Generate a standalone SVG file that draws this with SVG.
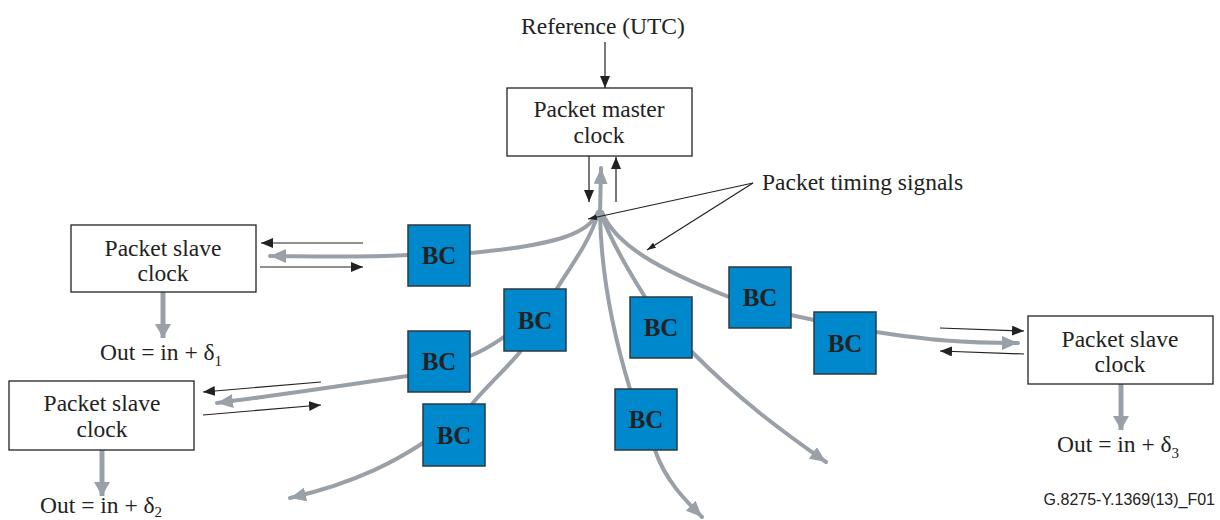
<svg xmlns="http://www.w3.org/2000/svg" width="1220" height="520" viewBox="0 0 1220 520">
<style>
.t{font-family:"Liberation Serif","Times New Roman",serif;font-size:23.5px;fill:#222;}
.box{fill:#fff;stroke:#222;stroke-width:1.3;}
.bc{fill:#0088cc;stroke:#2b3a42;stroke-width:1.5;}
.bct{font-family:"Liberation Serif","Times New Roman",serif;font-size:25px;font-weight:bold;fill:#222;text-anchor:middle;}
.g{fill:none;stroke:#9aa0a8;stroke-width:4;stroke-linecap:round;}
.gd{fill:none;stroke:#9aa0a8;stroke-width:5;}
.k{fill:none;stroke:#222;stroke-width:1.2;}
.k2{fill:none;stroke:#555;stroke-width:1.6;}
</style>
<defs>
<marker id="ga" markerUnits="userSpaceOnUse" markerWidth="17" markerHeight="14" refX="16" refY="7" orient="auto"><path d="M0,0 L16,7 L0,14 Z" fill="#9aa0a8"/></marker>
<marker id="gb" markerUnits="userSpaceOnUse" markerWidth="15" markerHeight="16" refX="14" refY="8" orient="auto"><path d="M0,0 L14,8 L0,16 Z" fill="#9aa0a8"/></marker>
<marker id="ka" markerUnits="userSpaceOnUse" markerWidth="13" markerHeight="10" refX="12" refY="5" orient="auto"><path d="M0,0 L12,5 L0,10 Z" fill="#222"/></marker>
<marker id="kb" markerUnits="userSpaceOnUse" markerWidth="10" markerHeight="6" refX="9" refY="3" orient="auto"><path d="M0,0 L9,3 L0,6 Z" fill="#222"/></marker>
</defs>

<g id="connectors">
<path class="g" d="M600,215 L601,168" marker-end="url(#ga)"/>
<path class="g" d="M598,212 C590,232 560,245 470,253"/>
<path class="g" d="M598,214 C590,240 575,260 556,290"/>
<path class="g" d="M600,214 C601,270 612,330 630,389"/>
<path class="g" d="M601,213 C610,240 628,270 645,297"/>
<path class="g" d="M602,212 C615,245 660,270 729,297"/>
<path class="g" d="M408,255 C350,258 300,256 270,256" marker-end="url(#ga)"/>
<path class="g" d="M408,376 C340,386 280,395 217,403" marker-end="url(#ga)"/>
<path class="g" d="M470,356 C485,350 495,343 504,337"/>
<path class="g" d="M520,352 C505,370 488,385 472,404"/>
<path class="g" d="M423,443 C400,458 360,482 290,498" marker-end="url(#ga)"/>
<path class="g" d="M655,450 C665,480 685,500 702,517" marker-end="url(#ga)"/>
<path class="g" d="M692,352 C740,400 780,430 826,462" marker-end="url(#ga)"/>
<path class="g" d="M791,315 L814,320"/>
<path class="g" d="M876,332 C930,340 960,343 1018,343" marker-end="url(#ga)"/>
<path class="gd" d="M163,292 L163,338" marker-end="url(#gb)"/>
<path class="gd" d="M102,450 L102,496" marker-end="url(#gb)"/>
<path class="gd" d="M1121,384 L1121,430" marker-end="url(#gb)"/>
<path class="k" d="M605,42 L605,88" marker-end="url(#ka)"/>
<path class="k2" d="M589,156 L589,202" marker-end="url(#ka)"/>
<path class="k2" d="M616,202 L616,157" marker-end="url(#ka)"/>
<path class="k" d="M363,243 L261,243" marker-end="url(#ka)"/>
<path class="k" d="M260,267 L363,267" marker-end="url(#ka)"/>
<path class="k" d="M321,382 L203,392" marker-end="url(#ka)"/>
<path class="k" d="M203,415 L321,405" marker-end="url(#ka)"/>
<path class="k" d="M940,328 L1024,331" marker-end="url(#ka)"/>
<path class="k" d="M1024,354 L940,351" marker-end="url(#ka)"/>
<path class="k" d="M753,183 L588,219" marker-end="url(#kb)"/>
<path class="k" d="M753,183 L647,250" marker-end="url(#kb)"/>
</g>

<g id="reference"><text class="t" x="603" y="34" text-anchor="middle">Reference (UTC)</text></g>
<g id="label-timing"><text class="t" x="762" y="190">Packet timing signals</text></g>

<g id="master">
<rect class="box" x="507" y="88" width="185" height="68"/>
<text class="t" x="599" y="117" text-anchor="middle">Packet master</text>
<text class="t" x="599" y="143" text-anchor="middle">clock</text>
</g>

<g id="slave1">
<rect class="box" x="71" y="225" width="185" height="67"/>
<text class="t" x="163" y="256" text-anchor="middle">Packet slave</text>
<text class="t" x="163" y="281" text-anchor="middle">clock</text>
</g>
<g id="out1"><text class="t" x="100" y="360">Out = in + δ<tspan font-size="15" dy="6">1</tspan></text></g>

<g id="slave2">
<rect class="box" x="9" y="381" width="185" height="69"/>
<text class="t" x="102" y="411" text-anchor="middle">Packet slave</text>
<text class="t" x="102" y="437" text-anchor="middle">clock</text>
</g>
<g id="out2"><text class="t" x="40" y="513">Out = in + δ<tspan font-size="15" dy="4">2</tspan></text></g>

<g id="slave3">
<rect class="box" x="1028" y="316" width="185" height="68"/>
<text class="t" x="1120" y="347" text-anchor="middle">Packet slave</text>
<text class="t" x="1120" y="372" text-anchor="middle">clock</text>
</g>
<g id="out3"><text class="t" x="1057" y="452">Out = in + δ<tspan font-size="15" dy="6">3</tspan></text></g>

<g id="bc1"><rect class="bc" x="408" y="225" width="62" height="61"/><text class="bct" x="439" y="264">BC</text></g>
<g id="bc2"><rect class="bc" x="504" y="289" width="62" height="62"/><text class="bct" x="535" y="329">BC</text></g>
<g id="bc3"><rect class="bc" x="408" y="331" width="62" height="61"/><text class="bct" x="439" y="370">BC</text></g>
<g id="bc4"><rect class="bc" x="423" y="404" width="62" height="62"/><text class="bct" x="454" y="444">BC</text></g>
<g id="bc5"><rect class="bc" x="630" y="297" width="62" height="61"/><text class="bct" x="661" y="336">BC</text></g>
<g id="bc6"><rect class="bc" x="615" y="389" width="62" height="61"/><text class="bct" x="646" y="428">BC</text></g>
<g id="bc7"><rect class="bc" x="729" y="267" width="62" height="61"/><text class="bct" x="760" y="306">BC</text></g>
<g id="bc8"><rect class="bc" x="814" y="312" width="62" height="62"/><text class="bct" x="845" y="352">BC</text></g>

<g id="footer"><text x="1215" y="505" text-anchor="end" font-family="Liberation Sans, Arial, sans-serif" font-size="16" fill="#222">G.8275-Y.1369(13)_F01</text></g>
</svg>
